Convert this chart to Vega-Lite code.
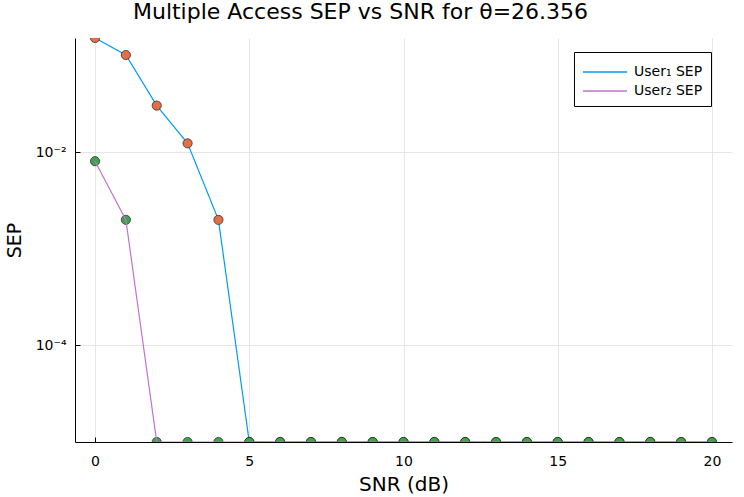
{
  "$schema": "https://vega.github.io/schema/vega-lite/v6.json",
  "autosize": {"type": "none"},
  "width": 657,
  "height": 404,
  "padding": {"left": 75, "top": 38, "right": 12, "bottom": 55},
  "background": "white",
  "config": {
    "font": "DejaVu Sans",
    "view": {"stroke": null},
    "axis": {"labelFont": "DejaVu Sans", "titleFont": "DejaVu Sans", "titleFontWeight": "normal"}
  },
  "title": {
    "text": "Multiple Access SEP vs SNR for θ=26.356",
    "fontSize": 22,
    "fontWeight": "normal",
    "font": "DejaVu Sans",
    "color": "black",
    "anchor": "middle",
    "dx": -43,
    "offset": 14
  },
  "data": {
    "values": [
      {"snr": 0, "user": "User₁ SEP", "sep": 0.153},
      {"snr": 1, "user": "User₁ SEP", "sep": 0.102},
      {"snr": 2, "user": "User₁ SEP", "sep": 0.0305},
      {"snr": 3, "user": "User₁ SEP", "sep": 0.0124},
      {"snr": 4, "user": "User₁ SEP", "sep": 0.002},
      {"snr": 5, "user": "User₁ SEP", "sep": 0.00001},
      {"snr": 6, "user": "User₁ SEP", "sep": 0.00001},
      {"snr": 7, "user": "User₁ SEP", "sep": 0.00001},
      {"snr": 8, "user": "User₁ SEP", "sep": 0.00001},
      {"snr": 9, "user": "User₁ SEP", "sep": 0.00001},
      {"snr": 10, "user": "User₁ SEP", "sep": 0.00001},
      {"snr": 11, "user": "User₁ SEP", "sep": 0.00001},
      {"snr": 12, "user": "User₁ SEP", "sep": 0.00001},
      {"snr": 13, "user": "User₁ SEP", "sep": 0.00001},
      {"snr": 14, "user": "User₁ SEP", "sep": 0.00001},
      {"snr": 15, "user": "User₁ SEP", "sep": 0.00001},
      {"snr": 16, "user": "User₁ SEP", "sep": 0.00001},
      {"snr": 17, "user": "User₁ SEP", "sep": 0.00001},
      {"snr": 18, "user": "User₁ SEP", "sep": 0.00001},
      {"snr": 19, "user": "User₁ SEP", "sep": 0.00001},
      {"snr": 20, "user": "User₁ SEP", "sep": 0.00001},
      {"snr": 0, "user": "User₂ SEP", "sep": 0.0081},
      {"snr": 1, "user": "User₂ SEP", "sep": 0.002},
      {"snr": 2, "user": "User₂ SEP", "sep": 0.00001},
      {"snr": 3, "user": "User₂ SEP", "sep": 0.00001},
      {"snr": 4, "user": "User₂ SEP", "sep": 0.00001},
      {"snr": 5, "user": "User₂ SEP", "sep": 0.00001},
      {"snr": 6, "user": "User₂ SEP", "sep": 0.00001},
      {"snr": 7, "user": "User₂ SEP", "sep": 0.00001},
      {"snr": 8, "user": "User₂ SEP", "sep": 0.00001},
      {"snr": 9, "user": "User₂ SEP", "sep": 0.00001},
      {"snr": 10, "user": "User₂ SEP", "sep": 0.00001},
      {"snr": 11, "user": "User₂ SEP", "sep": 0.00001},
      {"snr": 12, "user": "User₂ SEP", "sep": 0.00001},
      {"snr": 13, "user": "User₂ SEP", "sep": 0.00001},
      {"snr": 14, "user": "User₂ SEP", "sep": 0.00001},
      {"snr": 15, "user": "User₂ SEP", "sep": 0.00001},
      {"snr": 16, "user": "User₂ SEP", "sep": 0.00001},
      {"snr": 17, "user": "User₂ SEP", "sep": 0.00001},
      {"snr": 18, "user": "User₂ SEP", "sep": 0.00001},
      {"snr": 19, "user": "User₂ SEP", "sep": 0.00001},
      {"snr": 20, "user": "User₂ SEP", "sep": 0.00001}
    ]
  },
  "encoding": {
    "x": {
      "field": "snr", "type": "quantitative",
      "scale": {"domain": [-0.65, 20.65], "nice": false, "zero": false},
      "axis": {
        "title": "SNR (dB)", "titleFontSize": 20, "titleColor": "black", "titlePadding": 6,
        "values": [0, 5, 10, 15, 20], "labelFontSize": 14, "labelColor": "black",
        "tickSize": -5, "tickColor": "black", "labelPadding": 17,
        "domainColor": "black", "domainWidth": 1,
        "gridColor": "#e6e6e6", "gridWidth": 1, "grid": true
      }
    },
    "y": {
      "field": "sep", "type": "quantitative",
      "scale": {"type": "log", "domain": [0.00001, 0.153], "nice": false},
      "axis": {
        "title": "SEP", "titleFontSize": 19, "titleColor": "black", "titlePadding": 11,
        "values": [0.01, 0.0001],
        "labelExpr": "datum.value > 0.001 ? '10⁻²' : '10⁻⁴'",
        "labelFontSize": 14, "labelColor": "black",
        "tickSize": -5, "tickColor": "black", "labelPadding": 14,
        "domainColor": "black", "domainWidth": 1,
        "gridColor": "#e6e6e6", "gridWidth": 1, "grid": true
      }
    }
  },
  "layer": [
    {
      "transform": [{"filter": "datum.user == 'User₁ SEP'"}],
      "mark": {"type": "line", "clip": true, "strokeWidth": 1.2},
      "encoding": {
        "color": {
          "field": "user", "type": "nominal",
          "scale": {"domain": ["User₁ SEP", "User₂ SEP"], "range": ["#009AFA", "#C271D2"]},
          "legend": {
            "title": null, "orient": "none", "legendX": 499, "legendY": 14,
            "symbolType": "M-2,0H2", "symbolSize": 484, "symbolStrokeWidth": 1.5,
            "symbolOffset": 11,
            "labelFontSize": 14, "labelColor": "black", "labelFont": "DejaVu Sans",
            "labelOffset": 17,
            "strokeColor": "black", "fillColor": "white", "padding": 8,
            "rowPadding": 0, "cornerRadius": 0
          }
        }
      }
    },
    {
      "transform": [{"filter": "datum.user == 'User₁ SEP'"}],
      "mark": {"type": "point", "filled": true, "clip": true, "size": 85, "fill": "#E26F46", "stroke": "#222222", "strokeWidth": 0.7, "opacity": 1}
    },
    {
      "transform": [{"filter": "datum.user == 'User₂ SEP'"}],
      "mark": {"type": "point", "filled": true, "clip": true, "size": 85, "fill": "#3DA44D", "stroke": "#222222", "strokeWidth": 0.7, "opacity": 1}
    },
    {
      "transform": [{"filter": "datum.user == 'User₂ SEP'"}],
      "mark": {"type": "line", "clip": true, "strokeWidth": 1.2},
      "encoding": {
        "color": {"field": "user", "type": "nominal"}
      }
    }
  ]
}
